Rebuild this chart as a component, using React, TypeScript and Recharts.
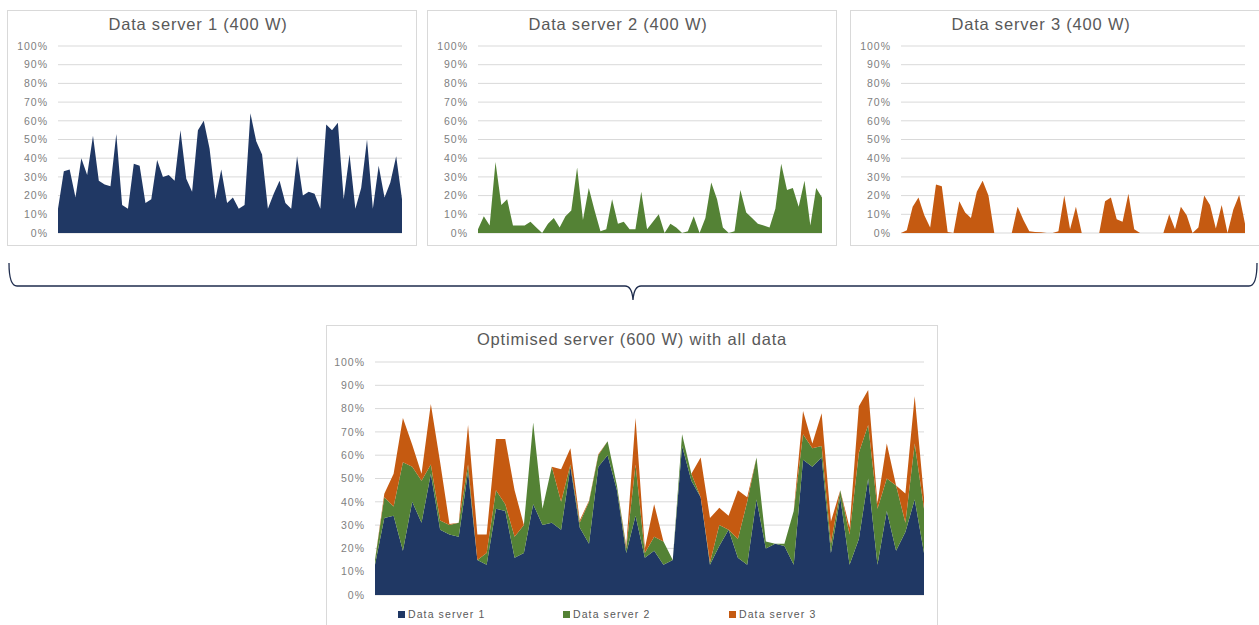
import { Area, AreaChart, CartesianGrid, XAxis, YAxis } from "recharts";

// utilisation per time slot, in % of the server's power
const server1 = [
  13, 33, 34, 19, 40, 31, 52, 28, 26, 25,
  53, 15, 13, 37, 36, 16, 18, 39, 30, 31,
  28, 55, 29, 22, 55, 60, 45, 18, 34, 16,
  19, 13, 15, 64, 49, 42, 13, 21, 28, 16,
  13, 41, 20, 22, 21, 13, 58, 55, 59, 18,
  42, 13, 24, 50, 13, 36, 19, 27, 41, 18,
];
const server2 = [
  2, 9, 4, 38, 15, 18, 4, 4, 4, 6,
  3, 0, 5, 8, 3, 9, 12, 35, 7, 24,
  12, 1, 2, 18, 5, 6, 2, 2, 22, 2,
  6, 10, 0, 5, 3, 0, 1, 9, 0, 8,
  27, 18, 3, 0, 1, 23, 11, 8, 5, 4,
  3, 13, 37, 23, 24, 14, 28, 4, 24, 19,
];
const server3 = [
  0, 1.5, 14, 19, 9.5, 3, 26, 25, 0.5, 0,
  17, 11, 8, 22, 28, 20, 0, 0, 0, 0,
  14, 7, 1, 0.5, 0.4, 0, 0, 1, 20, 2,
  14, 0, 0, 0, 0, 17, 19, 7.4, 6, 21,
  2, 0, 0, 0, 0, 0, 10, 2, 14, 9.5,
  0, 3, 20, 15, 2.4, 15, 0, 12.6, 20.3, 5,
];

const yTicks = [0, 10, 20, 30, 40, 50, 60, 70, 80, 90, 100];
const names = ["Data server 1", "Data server 2", "Data server 3"];
const keys = ["s1", "s2", "s3"];
const colors = ["#203864", "#548235", "#C55A11"];

const rows = server1.map((v, i) => ({
  slot: i + 1,
  s1: v,
  s2: server2[i],
  s3: server3[i],
}));

const font = "'Liberation Sans', Arial, Helvetica, sans-serif";
const tickStyle = {
  fill: "#808080",
  fontSize: 10.5,
  fontFamily: font,
  letterSpacing: 1,
};
const titleStyle = {
  position: "absolute" as const,
  top: 4,
  fontSize: 16.5,
  letterSpacing: 0.8,
  color: "#595959",
  fontFamily: font,
  whiteSpace: "nowrap" as const,
};

function SmallPanel({ idx, left }: { idx: number; left: number }) {
  return (
    <div
      style={{
        position: "absolute",
        left,
        top: 10,
        width: 410,
        height: 236,
        border: "1px solid #d9d9d9",
        boxSizing: "border-box",
        background: "#fff",
      }}
    >
      <div style={{ ...titleStyle, left: 0, width: 380, textAlign: "center" }}>
        {names[idx]} (400 W)
      </div>
      <AreaChart
        width={408}
        height={234}
        data={rows}
        margin={{ top: 35, right: 14, bottom: 12, left: 0 }}
      >
        <CartesianGrid vertical={false} stroke="#d9d9d9" />
        <XAxis dataKey="slot" hide />
        <YAxis
          domain={[0, 100]}
          ticks={yTicks}
          interval={0}
          tickFormatter={(v) => `${v}%`}
          axisLine={false}
          tickLine={false}
          tickMargin={4}
          width={50}
          tick={tickStyle}
        />
        <Area
          type="linear"
          dataKey={keys[idx]}
          stroke="none"
          fill={colors[idx]}
          fillOpacity={1}
          isAnimationActive={false}
        />
      </AreaChart>
    </div>
  );
}

function Brace() {
  return (
    <svg
      width={1259}
      height={625}
      style={{ position: "absolute", left: 0, top: 0, pointerEvents: "none" }}
    >
      <path
        d="M 9 263 Q 9 286 17 286 L 625 286 Q 632 286 633 300 Q 634 286 641 286 L 1249 286 Q 1257 286 1257 263"
        fill="none"
        stroke="#1f2d4e"
        strokeWidth={1.3}
      />
    </svg>
  );
}

export default function App() {
  return (
    <div
      style={{
        position: "absolute",
        left: 0,
        top: 0,
        width: 1259,
        height: 625,
        overflow: "hidden",
        background: "#fff",
        fontFamily: font,
      }}
    >
      <SmallPanel idx={0} left={7} />
      <SmallPanel idx={1} left={427} />
      <SmallPanel idx={2} left={850} />
      <Brace />
      <div
        style={{
          position: "absolute",
          left: 326,
          top: 325,
          width: 612,
          height: 310,
          border: "1px solid #d9d9d9",
          boxSizing: "border-box",
          background: "#fff",
        }}
      >
        <div style={{ ...titleStyle, left: 0, width: 610, textAlign: "center" }}>
          Optimised server (600 W) with all data
        </div>
        <AreaChart
          width={610}
          height={299}
          data={rows}
          margin={{ top: 36, right: 13, bottom: 30, left: 0 }}
        >
          <CartesianGrid vertical={false} stroke="#d9d9d9" />
          <XAxis dataKey="slot" hide />
          <YAxis
            domain={[0, 100]}
            ticks={yTicks}
            interval={0}
            tickFormatter={(v) => `${v}%`}
            axisLine={false}
            tickLine={false}
            tickMargin={4}
            width={48}
            tick={tickStyle}
          />
          {keys.map((k, i) => (
            <Area
              key={k}
              type="linear"
              dataKey={k}
              name={names[i]}
              stackId="all"
              stroke="none"
              fill={colors[i]}
              fillOpacity={1}
              isAnimationActive={false}
            />
          ))}
        </AreaChart>
        {names.map((n, i) => (
          <div
            key={n}
            style={{
              position: "absolute",
              top: 282,
              left: [71, 236, 402][i],
              display: "flex",
              alignItems: "center",
              fontSize: 10.5,
              letterSpacing: 1.1,
              color: "#595959",
              whiteSpace: "nowrap",
            }}
          >
            <span
              style={{
                display: "inline-block",
                width: 7,
                height: 7,
                background: colors[i],
                marginRight: 3,
              }}
            />
            {n}
          </div>
        ))}
      </div>
    </div>
  );
}
